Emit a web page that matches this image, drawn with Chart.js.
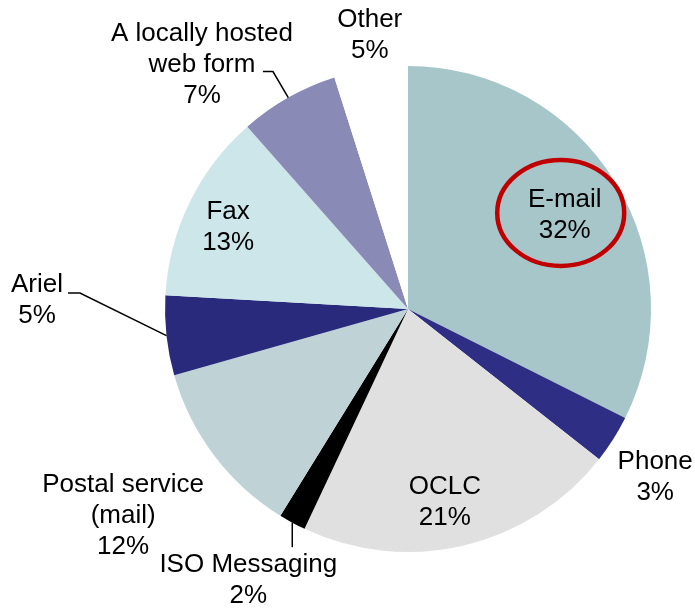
<!DOCTYPE html>
<html>
<head>
<meta charset="utf-8">
<script src="https://cdn.jsdelivr.net/npm/chart.js@4"></script>
<style>
  html, body { margin: 0; padding: 0; background: #fff; }
  canvas { display: block; }
</style>
</head>
<body>
<canvas id="pieChart" width="695" height="609"></canvas>
<script>
// Data (clockwise from 12 o'clock)
const categories = ['E-mail', 'Phone', 'OCLC', 'ISO Messaging', 'Postal service (mail)', 'Ariel', 'Fax', 'A locally hosted web form', 'Other'];
const labelLines = [['E-mail'], ['Phone'], ['OCLC'], ['ISO Messaging'], ['Postal service', '(mail)'], ['Ariel'], ['Fax'], ['A locally hosted', 'web form'], ['Other']];
const shares = [32.4, 3.2, 21.4, 1.8, 11.8, 5.3, 12.6, 6.6, 4.9];
const sliceColors = ['#a6c6ca', '#2e2e84', '#e0e0e0', '#000000', '#bfd3d6', '#2a2a7c', '#cce6ea', '#8a8ab7', '#ffffff'];

// label placement: r = fraction of radius along the slice middle, dx/dy = pixel shift
// leader = polyline points relative to the slice's outer edge midpoint
const labelLayout = [
  { r: 0.753, dx: 1, dy: 2, circle: true },
  { r: 1, dx: 42, dy: 38 },
  { r: 0.8, dx: -8, dy: 4 },
  { r: 1, dx: -44, dy: 58, leader: [[0, 0], [0, 24.5]] },
  { r: 1, dx: -91, dy: 60 },
  { r: 1, dx: -129.5, dy: -35.5, leader: [[0, 0], [-86.5, -42.7], [-98.5, -42.7]] },
  { r: 0.8, dx: -5, dy: 3 },
  { r: 1, dx: -86.3, dy: -32.5, leader: [[0, 0], [-15.3, -26], [-25.3, -26]] },
  { r: 1, dx: -1, dy: -34 }
];

const FONT = '26px "Liberation Sans", Arial, sans-serif';
const LINE_H = 31;

const sliceLabels = {
  id: 'sliceLabels',
  afterDraw(chart) {
    const ctx = chart.ctx;
    const meta = chart.getDatasetMeta(0);
    const total = shares.reduce((a, b) => a + b, 0);
    ctx.save();
    meta.data.forEach((arc, i) => {
      const lay = labelLayout[i];
      const mid = (arc.startAngle + arc.endAngle) / 2;
      const R = arc.outerRadius;
      const edgeX = arc.x + Math.cos(mid) * R;
      const edgeY = arc.y + Math.sin(mid) * R;

      if (lay.leader) {
        ctx.strokeStyle = '#000';
        ctx.lineWidth = 1.5;
        ctx.beginPath();
        lay.leader.forEach(([px, py], k) => {
          if (k === 0) ctx.moveTo(edgeX + px, edgeY + py);
          else ctx.lineTo(edgeX + px, edgeY + py);
        });
        ctx.stroke();
      }

      const cx = arc.x + Math.cos(mid) * R * lay.r + lay.dx;
      const cy = arc.y + Math.sin(mid) * R * lay.r + lay.dy;
      const lines = labelLines[i].concat([Math.round(shares[i] / total * 100) + '%']);
      ctx.fillStyle = '#000';
      ctx.font = FONT;
      ctx.textAlign = 'center';
      ctx.textBaseline = 'middle';
      const top = cy - (lines.length - 1) * LINE_H / 2;
      lines.forEach((t, k) => ctx.fillText(t, cx, top + k * LINE_H));

      if (lay.circle) {
        ctx.strokeStyle = '#c00000';
        ctx.lineWidth = 4.5;
        ctx.beginPath();
        ctx.ellipse(cx - 4, cy - 2, 63.5, 53, 0, 0, Math.PI * 2);
        ctx.stroke();
      }
    });
    ctx.restore();
  }
};

new Chart(document.getElementById('pieChart').getContext('2d'), {
  type: 'pie',
  data: {
    labels: categories,
    datasets: [{
      data: shares,
      backgroundColor: sliceColors,
      borderWidth: 0,
      hoverOffset: 0
    }]
  },
  options: {
    responsive: false,
    animation: false,
    layout: { padding: { left: 165, right: 44, top: 66, bottom: 57 } },
    plugins: {
      legend: { display: false },
      tooltip: { enabled: false }
    }
  },
  plugins: [sliceLabels]
});
</script>
</body>
</html>
